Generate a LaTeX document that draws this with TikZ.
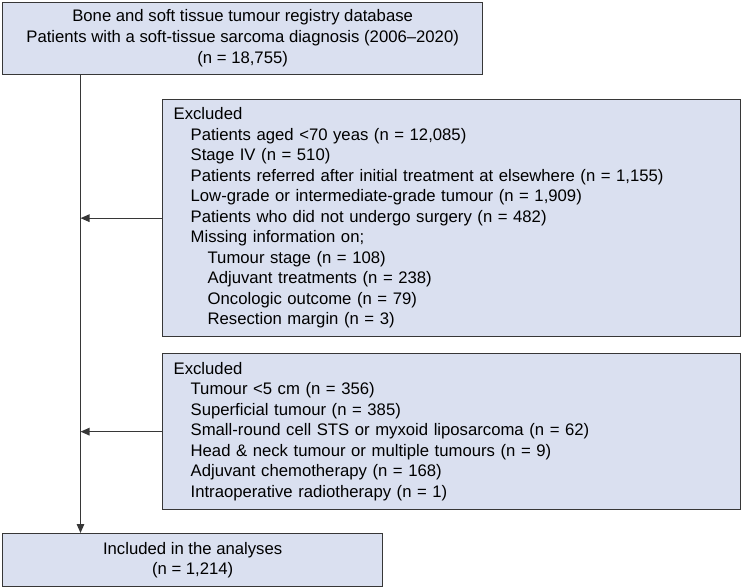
\documentclass[tikz,border=0pt]{standalone}
\usepackage{fontspec}
\setmainfont{Liberation Sans}
\usetikzlibrary{positioning,arrows.meta}
\definecolor{boxfill}{RGB}{218,224,240}
\definecolor{boxline}{RGB}{55,55,55}
\newcommand{\lvone}{\hspace*{17pt}}
\newcommand{\lvtwo}{\hspace*{34pt}}

\begin{document}
\begin{tikzpicture}[x=1pt,y=-1pt,>={Triangle[length=9pt,width=7.5pt]},
  flowbox/.style={draw=boxline,fill=boxfill,line width=1.3pt,anchor=north west,
    font=\fontsize{16.7}{21}\selectfont,inner sep=0pt},
  exbox/.style={flowbox,align=left,inner xsep=11pt,text width=556pt,
    font=\fontsize{16.7}{20.5}\selectfont}]
\useasboundingbox (0,0) rectangle (741,588);
\node[flowbox,align=center,minimum width=480pt,minimum height=72pt] (reg) at (2,2)
  {Bone and soft tissue tumour registry database\\
   Patients with a soft-tissue sarcoma diagnosis (2006--2020)\\
   (n = 18,755)};
\node[exbox,minimum height=237pt] (ex1) at (162,99)
  {Excluded\\
   \lvone Patients aged <70 yeas (n = 12,085)\\
   \lvone Stage IV (n = 510)\\
   \lvone Patients referred after initial treatment at elsewhere (n = 1,155)\\
   \lvone Low-grade or intermediate-grade tumour (n = 1,909)\\
   \lvone Patients who did not undergo surgery (n = 482)\\
   \lvone Missing information on;\\
   \lvtwo Tumour stage (n = 108)\\
   \lvtwo Adjuvant treatments (n = 238)\\
   \lvtwo Oncologic outcome (n = 79)\\
   \lvtwo Resection margin (n = 3)};
\node[exbox,minimum height=156pt] (ex2) at (162,353)
  {Excluded\\
   \lvone Tumour <5 cm (n = 356)\\
   \lvone Superficial tumour (n = 385)\\
   \lvone Small-round cell STS or myxoid liposarcoma (n = 62)\\
   \lvone Head \& neck tumour or multiple tumours (n = 9)\\
   \lvone Adjuvant chemotherapy (n = 168)\\
   \lvone Intraoperative radiotherapy (n = 1)};
\node[flowbox,align=center,minimum width=380pt,minimum height=53pt,
  font=\fontsize{16.7}{20}\selectfont] (incl) at (2,533)
  {Included in the analyses\\
   (n = 1,214)};
\coordinate (trunk) at (80.5,0);
\draw[->,line width=1.3pt,boxline] (reg.south -| trunk) -- (incl.north -| trunk);
\draw[->,line width=1.3pt,boxline] (ex1.west) -- (ex1.west -| trunk);
\draw[->,line width=1.3pt,boxline] (ex2.west) -- (ex2.west -| trunk);
\end{tikzpicture}
\end{document}
